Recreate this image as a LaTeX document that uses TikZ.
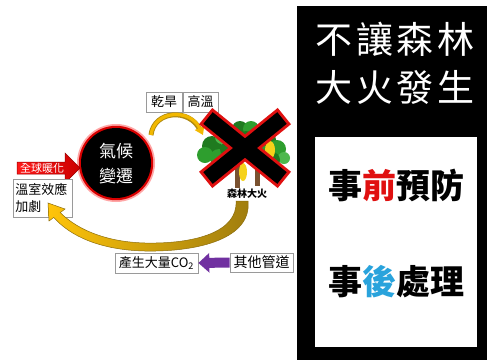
\documentclass[tikz,border=0pt]{standalone}
\usepackage{fontspec}
\setmainfont{Noto Sans CJK TC}
\usetikzlibrary{arrows.meta}
\definecolor{fr}{HTML}{E01010}
\definecolor{hb}{HTML}{29A3DC}
\definecolor{gold}{HTML}{F2B800}
\definecolor{goldd}{HTML}{B08A10}
\definecolor{goldl}{HTML}{FFC40A}
\definecolor{purp}{HTML}{7030A0}
\definecolor{tg1}{HTML}{1F7A1F}
\definecolor{tg2}{HTML}{2E9E2E}
\definecolor{tg3}{HTML}{4DB84D}
\definecolor{trunk}{HTML}{7A5230}
\definecolor{flame}{HTML}{F6D21A}
\definecolor{boxline}{HTML}{9A9A9A}
\tikzset{
  lbox/.style={draw=boxline, fill=white, line width=0.7pt, inner sep=0pt, font=\fontsize{13}{15}\selectfont},
  titlet/.style={text=white, inner sep=0pt, font=\fontsize{37}{40}\selectfont},
  bigt/.style={text=black, inner sep=0pt, font=\bfseries\fontsize{34}{38}\selectfont},
  leaf1/.style={fill=tg1},
  leaf2/.style={fill=tg2},
  leaf3/.style={fill=tg3},
}
\begin{document}
\begin{tikzpicture}[x=1pt,y=-1pt]
\useasboundingbox (0,0) rectangle (487,360);
\fill[white] (0,0) rectangle (487,360);
% right panel
\fill[black] (297,6) rectangle (487,360);
\fill[white] (315,137) rectangle (477,347);
\node[titlet] (t1) at (395,39) {不\hspace{3.5pt}讓\hspace{3.5pt}森\hspace{3.5pt}林};
\node[titlet] (t2) at (395,87) {大\hspace{3.5pt}火\hspace{3.5pt}發\hspace{3.5pt}生};
\node[bigt] (p1) at (396.5,185) {事\textcolor{fr}{前}預防};
\node[bigt] (p2) at (396.5,282) {事\textcolor{hb}{後}處理};
% top boxes
\node[lbox, minimum width=36pt, minimum height=20pt] (gh) at (164,102) {乾旱};
\node[lbox, minimum width=35pt, minimum height=20pt] (gw) at (200.5,102) {高溫};
% small arc arrow
\coordinate (sa) at (151,135);
\coordinate (sb) at (203,135);
\draw[goldd, line width=5pt] (sa) .. controls (154,110) and (190,108) .. ([shift={(-3,-5)}]sb);
\draw[gold, line width=3.2pt, -{Triangle[length=8pt,width=10pt]}] (sa) .. controls (154,110) and (190,108) .. (sb);
% circle
\fill[red!35] (116,163) circle (39);
\fill[red!85!black] (116,163) circle (37.2);
\fill[black] (116,163) circle (35);
\node[circle, minimum size=70pt, inner sep=0pt] (cc) at (116,163) {};
\node[text=white, align=center, inner sep=0pt, font=\fontsize{17}{25}\selectfont] (cct) at (116,164) {氣候\\變遷};
% red arrow
\shade[left color=red!90!white, right color=red!80!black, draw=red!60!black, line width=0.5pt]
  (17,162)--(65,162)--(65,153)--(80,168)--(65,183)--(65,174)--(17,174)--cycle;
\node[text=white, inner sep=0pt, font=\fontsize{11}{12}\selectfont] (warm) at (42,168) {全球暖化};
% greenhouse box
\node[lbox, minimum width=59pt, minimum height=38pt, text width=54pt, align=left, font=\fontsize{13}{17}\selectfont] (gr) at (42.5,198) {溫室效應\\加劇};
% trees
\fill[trunk] (235,158) rectangle (240,188);
\fill[trunk] (255,160) rectangle (260,186);
\fill[leaf1] (212,146) circle (10);
\fill[leaf2] (205,155) circle (8);
\fill[leaf2] (219,158) circle (9);
\fill[leaf1] (228,149) circle (8);
\fill[leaf3] (222,137) circle (7);
\fill[leaf1] (240,129) circle (8);
\fill[leaf2] (251,129) circle (8);
\fill[leaf1] (246,140) circle (9);
\fill[leaf3] (235,139) circle (6);
\fill[leaf2] (257,142) circle (7);
\fill[leaf1] (268,140) circle (8);
\fill[leaf2] (277,149) circle (9);
\fill[leaf3] (284,158) circle (6);
\fill[leaf1] (272,160) circle (8);
\fill[leaf2] (262,152) circle (7);
\fill[leaf2] (227,168) circle (6);
\fill[leaf1] (267,168) circle (6);
\fill[flame] (243,172) ellipse (4 and 9);
\fill[flame] (270,150) ellipse (5 and 9);
\coordinate (fire) at (245,148);
% X
\draw[fr, line width=21pt, shorten <=-3pt, shorten >=-3pt] (208,118) -- (282,178);
\draw[fr, line width=21pt, shorten <=-3pt, shorten >=-3pt] (282,118) -- (208,178);
\draw[black, line width=15pt] (208,118) -- (282,178);
\draw[black, line width=15pt] (282,118) -- (208,178);
\node[inner sep=0pt, font=\bfseries\fontsize{10}{12}\selectfont] (fl) at (247,194) {森林大火};
% big crescent arrow
\shade[left color=goldl, right color=goldd!90!black, draw=goldd!80!black, line width=0.5pt]
  (248,201) .. controls (252,238) and (200,252) .. (145,251)
  .. controls (100,250) and (70,236) .. (53.8,217.4)
  -- (49,221) -- (48,203) -- (65,209) -- (60.2,212.6)
  .. controls (80,232) and (110,242) .. (145,243)
  .. controls (195,244) and (238,232) .. (236,201) -- cycle;
% bottom boxes
\node[lbox, minimum width=83pt, minimum height=20pt] (co2) at (156.5,263) {產生大量CO\textsubscript{2}};
\node[lbox, minimum width=63pt, minimum height=19pt, font=\fontsize{14}{16}\selectfont] (other) at (261.5,262.5) {其他管道};
\draw[purp, line width=10pt, -{Triangle[length=11pt,width=19pt]}] (other.west) -- (co2.east);
\end{tikzpicture}
\end{document}
